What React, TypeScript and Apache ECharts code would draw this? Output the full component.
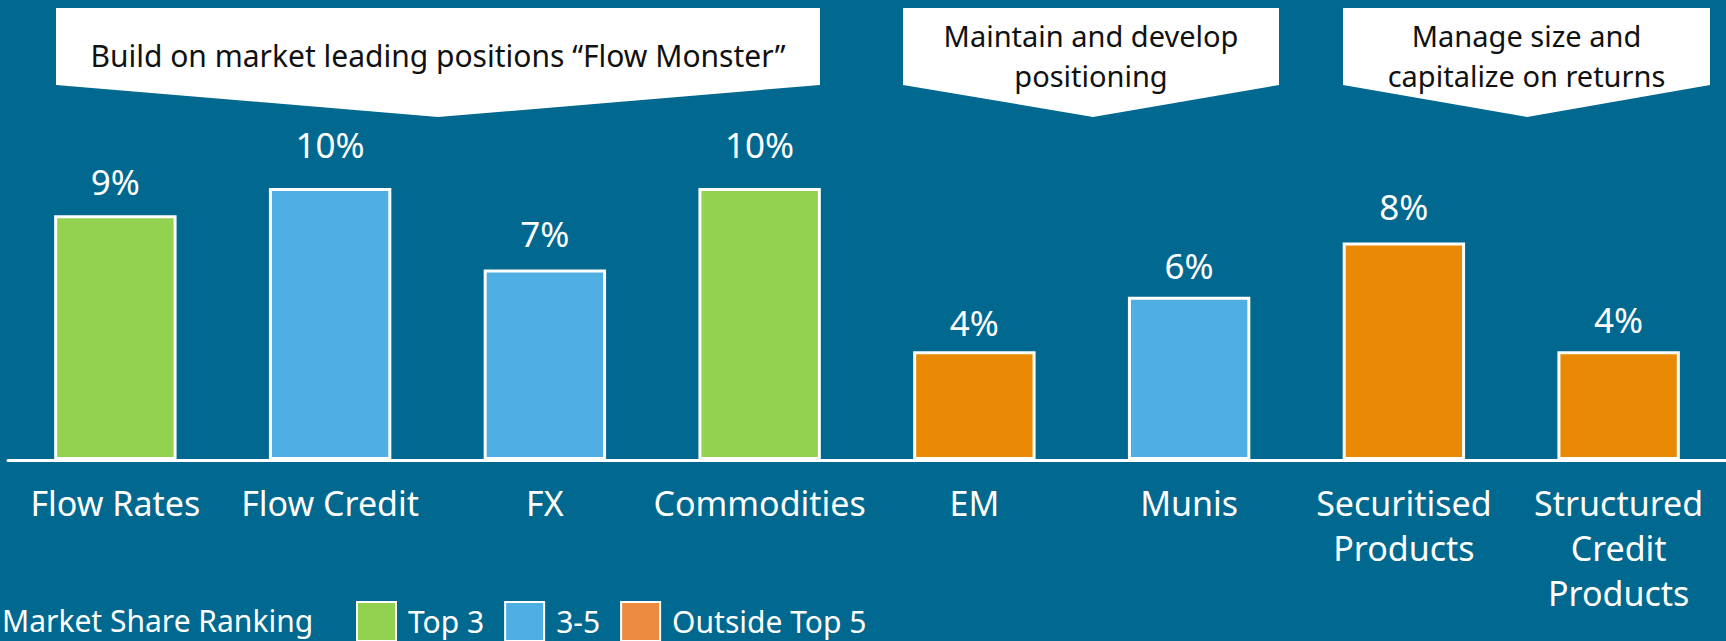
import React, { useEffect, useRef } from "react";
import * as echarts from "echarts";

const categories = [
  "Flow Rates",
  "Flow Credit",
  "FX",
  "Commodities",
  "EM",
  "Munis",
  "Securitised\nProducts",
  "Structured\nCredit\nProducts",
];
const marketShare = [9, 10, 7, 10, 4, 6, 8, 4];
const ranking = ["Top 3", "3-5", "3-5", "Top 3", "Outside Top 5", "3-5", "Outside Top 5", "Outside Top 5"];
const rankGroups = ["Top 3", "3-5", "Outside Top 5"];
const bannerTexts = [
  ["Build on market leading positions \u201cFlow Monster\u201d"],
  ["Maintain and develop", "positioning"],
  ["Manage size and", "capitalize on returns"],
];
const legendTitle = "Market Share Ranking";

const FONT = "'Noto Sans', 'Open Sans', sans-serif";
const barColors = ["#93D150", "#4FAFE3", "#EA8A04"];
const legendColors = ["#93D150", "#4FAFE3", "#EC8A40"];
// per-bar spacing of the value label above the bar (styling only)
const labelDistance = [16, 26, 19, 26, 11, 14, 18, 14];

export default function App() {
  const ref = useRef<HTMLDivElement>(null);
  useEffect(() => {
    if (!ref.current) return;
    const chart = echarts.init(ref.current, undefined, { renderer: "svg" });

    const series = rankGroups.map((g, gi) => ({
      name: g,
      type: "bar",
      stack: "share",
      barWidth: "57%",
      data: marketShare.map((v, i) =>
        ranking[i] === g ? { value: v, label: { distance: labelDistance[i] } } : "-"
      ),
      itemStyle: { color: barColors[gi], borderColor: "#ffffff", borderWidth: 3 },
      label: {
        show: true,
        position: "top",
        distance: 16,
        formatter: (p: any) => p.value + "%",
        color: "#ffffff",
        fontFamily: FONT,
        fontSize: 35,
      },
    }));

    const banners = [
      { l: 56, r: 820, p: 438 },
      { l: 903, r: 1279, p: 1093 },
      { l: 1343, r: 1710, p: 1527 },
    ];
    const graphic: any[] = [];
    banners.forEach((b, i) => {
      graphic.push({
        type: "polygon",
        shape: { points: [[b.l, 8], [b.r, 8], [b.r, 85], [b.p, 117], [b.l, 85]] },
        style: { fill: "#ffffff" },
        z: 10,
      });
      const lines = bannerTexts[i];
      const ys = lines.length === 1 ? [55] : [35.5, 75];
      lines.forEach((t, li) => {
        graphic.push({
          type: "text",
          x: (b.l + b.r) / 2,
          y: ys[li],
          style: {
            text: t,
            fill: "#111111",
            fontSize: lines.length === 1 ? 30 : 29,
            fontFamily: FONT,
            align: "center",
            verticalAlign: "middle",
            textAlign: "center",
            textVerticalAlign: "middle",
            lineHeight: 30,
          },
          z: 11,
        });
      });
    });
    graphic.push({
      type: "text",
      x: 2,
      y: 620,
      style: {
        text: legendTitle,
        fill: "#ffffff",
        fontSize: 30,
        fontFamily: FONT,
        align: "left",
        verticalAlign: "middle",
        textAlign: "left",
        textVerticalAlign: "middle",
        lineHeight: 30,
      },
    });

    chart.setOption({
      animation: false,
      backgroundColor: "#01688F",
      grid: { left: 8, right: -7, top: 188, bottom: 181, containLabel: false },
      xAxis: {
        type: "category",
        data: categories,
        axisLine: { show: true, lineStyle: { color: "#ffffff", width: 3 } },
        axisTick: { show: false },
        axisLabel: {
          interval: 0,
          margin: 20,
          color: "#ffffff",
          fontFamily: FONT,
          fontSize: 34,
          lineHeight: 45,
        },
        z: 5,
      },
      yAxis: {
        type: "value",
        min: 0,
        max: 10,
        show: false,
        splitLine: { show: false },
      },
      legend: {
        left: 356,
        top: 601,
        padding: 0,
        itemWidth: 39,
        itemHeight: 39,
        itemGap: 20,
        icon: "rect",
        selectedMode: false,
        textStyle: {
          color: "#ffffff",
          fontFamily: FONT,
          fontSize: 30,
          lineHeight: 30,
          padding: [0, 0, 0, 7],
        },
        data: rankGroups.map((g, gi) => ({
          name: g,
          itemStyle: { color: legendColors[gi], borderColor: "#ffffff", borderWidth: 2 },
        })),
      },
      graphic,
      series,
    });
    return () => chart.dispose();
  }, []);
  return (
    <div
      ref={ref}
      style={{ position: "fixed", left: 0, top: 0, width: "1726px", height: "641px" }}
    />
  );
}
